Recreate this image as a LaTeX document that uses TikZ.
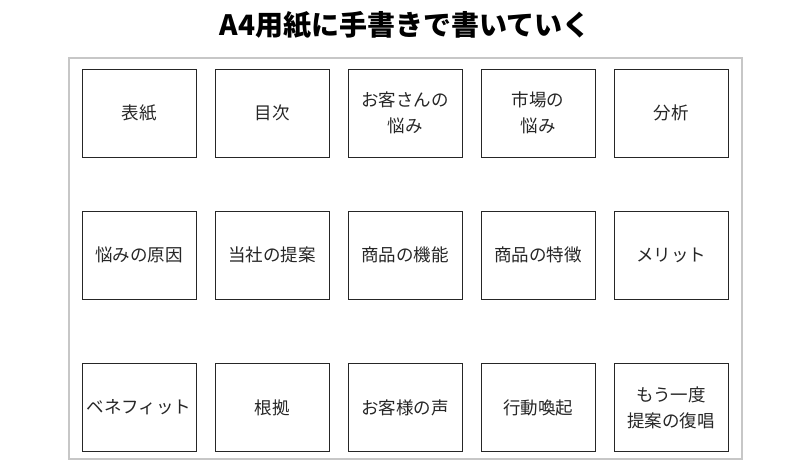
\documentclass[tikz,border=0pt]{standalone}
\usepackage{fontspec}
\newfontfamily\jp{Noto Sans CJK JP}
\begin{document}
\begin{tikzpicture}[x=1pt,y=-1pt,
 page/.style={draw=black!22,line width=1.2pt},
 sheet/.style={draw=black!85,line width=1pt,minimum width=114pt,minimum height=88pt,inner sep=0pt,align=center,font=\jp\fontsize{17.5}{26}\selectfont,text=black!85},
 heading/.style={font=\jp\bfseries\fontsize{28}{32}\selectfont}]
 \useasboundingbox (0,0) rectangle (810,474);
 \node[heading] (title) at (405,25) {A4用紙に手書きで書いていく};
 \draw[page] (69,58) rectangle (742,459);
 \node[sheet] (cover) at (139,113) {表紙};
 \node[sheet] (toc) at (272,113) {目次};
 \node[sheet] (pain) at (405,113) {お客さんの\\悩み};
 \node[sheet] (market) at (538,113) {市場の\\悩み};
 \node[sheet] (analysis) at (671,113) {分析};
 \node[sheet] (cause) at (139,255) {悩みの原因};
 \node[sheet] (offer) at (272,255) {当社の提案};
 \node[sheet] (function) at (405,255) {商品の機能};
 \node[sheet] (feature) at (538,255) {商品の特徴};
 \node[sheet] (merit) at (671,255) {メリット};
 \node[sheet] (benefit) at (139,407.5) {ベネフィット};
 \node[sheet] (evidence) at (272,407.5) {根拠};
 \node[sheet] (voice) at (405,407.5) {お客様の声};
 \node[sheet] (action) at (538,407.5) {行動喚起};
 \node[sheet] (repeat) at (671,407.5) {もう一度\\提案の復唱};
\end{tikzpicture}
\end{document}
